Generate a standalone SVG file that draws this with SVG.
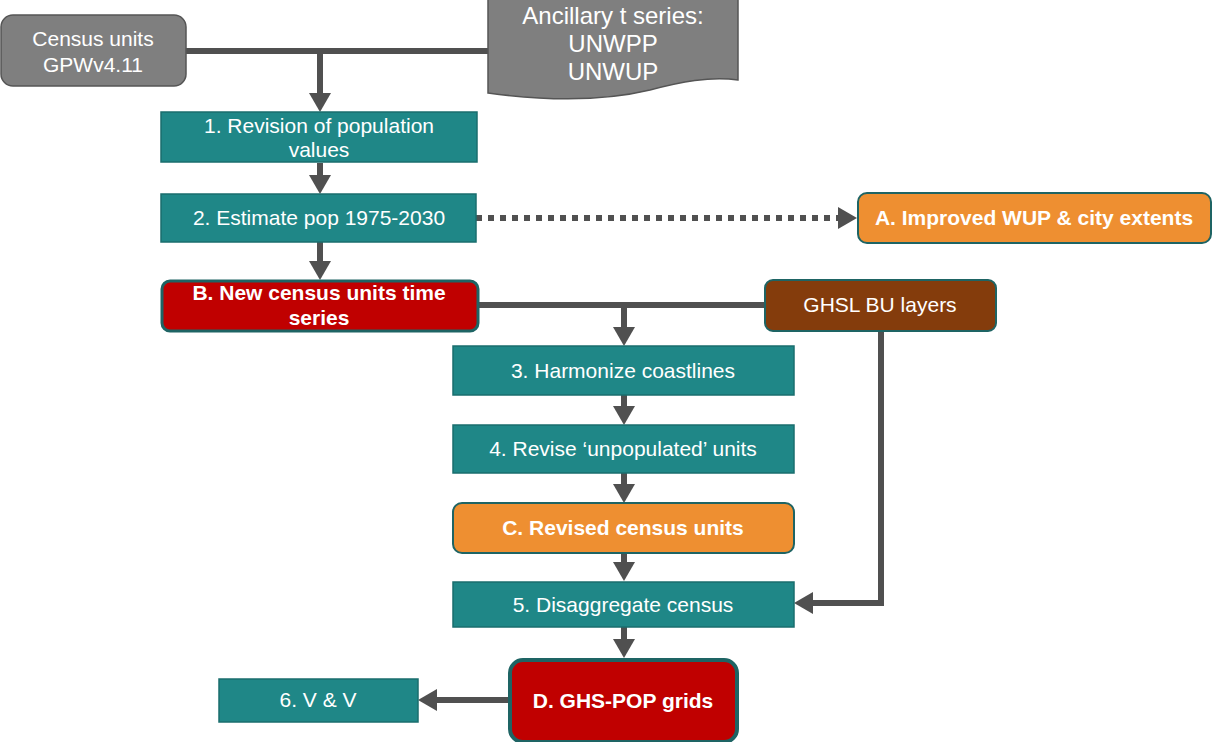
<svg xmlns="http://www.w3.org/2000/svg" width="1212" height="742" viewBox="0 0 1212 742">
<defs>
<style>
.t{font-family:"Liberation Sans",Arial,sans-serif;font-size:21px;fill:#ffffff;text-anchor:middle}
.b{font-weight:bold}
.teal{fill:#1f8787;stroke:#1a6e6e;stroke-width:1.5}
.gray{fill:#7f7f7f;stroke:#555555;stroke-width:1.5}
.org{fill:#ee8f31;stroke:#1e6464;stroke-width:2}
.red{fill:#c00000;stroke:#1e6464;stroke-width:3}
.brn{fill:#843c0c;stroke:#1e6464;stroke-width:2}
.c{fill:none;stroke:#505050;stroke-width:6}
</style>
<marker id="ah" markerUnits="userSpaceOnUse" markerWidth="20" markerHeight="22" refX="0" refY="11" orient="auto" viewBox="0 0 20 22">
<path d="M0,0 L19,11 L0,22 Z" fill="#505050"/>
</marker>
</defs>
<g id="connectors">
<path class="c" d="M186,51 H488"/>
<path class="c" d="M320,51 V93" marker-end="url(#ah)"/>
<path class="c" d="M320,163 V175" marker-end="url(#ah)"/>
<path class="c" d="M320,242 V261" marker-end="url(#ah)"/>
<path class="c" d="M476,218 H838" stroke-dasharray="6 6"/>
<path d="M838,207 L857,218 L838,229 Z" fill="#505050"/>
<path class="c" d="M478,305 H764"/>
<path class="c" d="M624,305 V327" marker-end="url(#ah)"/>
<path class="c" d="M624,395 V406" marker-end="url(#ah)"/>
<path class="c" d="M624,473 V484" marker-end="url(#ah)"/>
<path class="c" d="M624,553 V562" marker-end="url(#ah)"/>
<path class="c" d="M881,331 V603 H813" marker-end="url(#ah)"/>
<path class="c" d="M624,627 V639" marker-end="url(#ah)"/>
<path class="c" d="M508,700 H437" marker-end="url(#ah)"/>
</g>
<g id="census">
<rect class="gray" x="1" y="15" width="185" height="71" rx="12"/>
<text class="t" x="93" y="46">Census units</text>
<text class="t" x="93" y="72">GPWv4.11</text>
</g>
<g id="ancillary">
<path class="gray" d="M488,-2 H738 V80 C710,76 680,82 650,90 C600,102 540,100 488,93 Z"/>
<text class="t" x="613" y="24" style="font-size:24px">Ancillary t series:</text>
<text class="t" x="613" y="52" style="font-size:24px">UNWPP</text>
<text class="t" x="613" y="80" style="font-size:24px">UNWUP</text>
</g>
<g id="step1">
<rect class="teal" x="161" y="112" width="316" height="50"/>
<text class="t" x="319" y="133">1. Revision of population</text>
<text class="t" x="319" y="157">values</text>
</g>
<g id="step2">
<rect class="teal" x="161" y="194" width="315" height="48"/>
<text class="t" x="319" y="225">2. Estimate pop 1975-2030</text>
</g>
<g id="nodeA">
<rect class="org" x="858" y="193" width="353" height="50" rx="9"/>
<text class="t b" x="1034" y="225">A. Improved WUP &amp; city extents</text>
</g>
<g id="nodeB">
<rect class="red" x="162" y="281" width="316" height="50" rx="8"/>
<text class="t b" x="319" y="300">B. New census units time</text>
<text class="t b" x="319" y="325">series</text>
</g>
<g id="ghsl">
<rect class="brn" x="765" y="280" width="231" height="51" rx="8"/>
<text class="t" x="880" y="312">GHSL BU layers</text>
</g>
<g id="step3">
<rect class="teal" x="453" y="346" width="341" height="49"/>
<text class="t" x="623" y="378">3. Harmonize coastlines</text>
</g>
<g id="step4">
<rect class="teal" x="453" y="425" width="341" height="48"/>
<text class="t" x="623" y="456">4. Revise ‘unpopulated’ units</text>
</g>
<g id="nodeC">
<rect class="org" x="453" y="503" width="341" height="50" rx="9"/>
<text class="t b" x="623" y="535">C. Revised census units</text>
</g>
<g id="step5">
<rect class="teal" x="453" y="582" width="341" height="45"/>
<text class="t" x="623" y="612">5. Disaggregate census</text>
</g>
<g id="nodeD">
<rect x="510" y="660" width="227" height="82" rx="13" fill="#c00000" stroke="#1e6464" stroke-width="4"/>
<text class="t b" x="623" y="708">D. GHS-POP grids</text>
</g>
<g id="step6">
<rect class="teal" x="219" y="679" width="199" height="43"/>
<text class="t" x="318" y="707">6. V &amp; V</text>
</g>
</svg>
